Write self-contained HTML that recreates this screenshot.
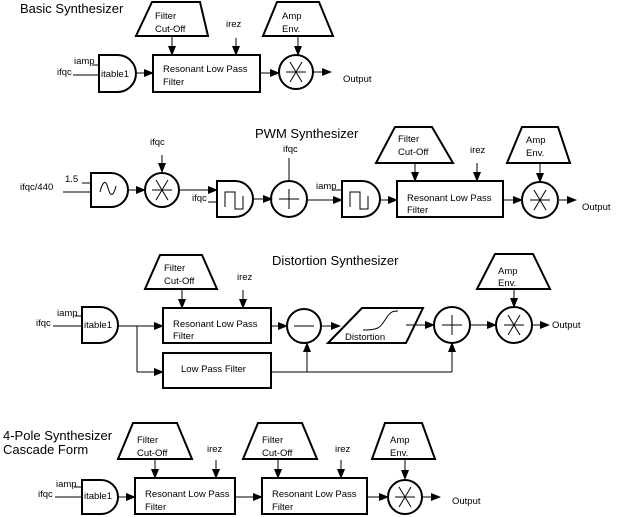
<!DOCTYPE html>
<html><head><meta charset="utf-8"><style>
html,body{margin:0;padding:0;background:#fff;}
svg{display:block;}
text{font-family:"Liberation Sans",sans-serif;font-size:9.5px;fill:#000;}
.t{font-size:13px;}
.b{fill:none;stroke:#000;stroke-width:2;}
.l{fill:none;stroke:#000;stroke-width:1;}
</style></head><body>
<svg width="617" height="517" viewBox="0 0 617 517" xmlns="http://www.w3.org/2000/svg">
<defs>
<marker id="a" markerUnits="userSpaceOnUse" markerWidth="10" markerHeight="8" refX="9" refY="4" orient="auto">
<path d="M0,0 L10,4 L0,8 Z" fill="#000"/>
</marker>
</defs>

<!-- ===== Basic Synthesizer ===== -->
<text class="t" x="20" y="13">Basic Synthesizer</text>
<path class="b" d="M152,2 H200 L208,36 H136 Z"/>
<text x="155" y="19">Filter</text><text x="155" y="32">Cut-Off</text>
<line class="l" x1="172" y1="36" x2="172" y2="55" marker-end="url(#a)"/>
<text x="226" y="27">irez</text>
<line class="l" x1="236" y1="38" x2="236" y2="55" marker-end="url(#a)"/>
<path class="b" d="M277,2 H319 L333,36 H263 Z"/>
<text x="282" y="19">Amp</text><text x="282" y="32">Env.</text>
<line class="l" x1="298" y1="36" x2="298" y2="55" marker-end="url(#a)"/>
<text x="74" y="64">iamp</text><line class="l" x1="92" y1="65" x2="99" y2="65"/>
<text x="57" y="75">ifqc</text><line class="l" x1="73" y1="75" x2="99" y2="75"/>
<path class="b" d="M99,55 H117.5 A18.5,18.5 0 0 1 117.5,92 H99 Z"/>
<text x="101" y="77">itable1</text>
<line class="l" x1="136" y1="73" x2="153" y2="73" marker-end="url(#a)"/>
<rect class="b" x="153" y="55" width="107" height="37"/>
<text x="163" y="72">Resonant Low Pass</text><text x="163" y="85">Filter</text>
<line class="l" x1="260" y1="73" x2="279" y2="73" marker-end="url(#a)"/>
<circle class="b" cx="296" cy="72" r="17"/>
<path class="l" d="M286,72 H306 M290,62 L302,82 M302,62 L290,82"/>
<line class="l" x1="313" y1="72" x2="331" y2="72" marker-end="url(#a)"/>
<text x="343" y="82">Output</text>

<!-- ===== PWM Synthesizer ===== -->
<text class="t" x="255" y="138">PWM Synthesizer</text>
<text x="65" y="182">1.5</text><line class="l" x1="82" y1="183" x2="91" y2="183"/>
<text x="20" y="190">ifqc/440</text><line class="l" x1="63" y1="192" x2="91" y2="192"/>
<path class="b" d="M91,173 H111 A17,17 0 0 1 111,207 H91 Z"/>
<path class="l" d="M100,192 C103,180 106,180 108,188 C110,196 113,198 116,186"/>
<line class="l" x1="128" y1="190" x2="145" y2="190" marker-end="url(#a)"/>
<text x="150" y="145">ifqc</text>
<line class="l" x1="162" y1="155" x2="162" y2="172" marker-end="url(#a)"/>
<circle class="b" cx="162" cy="190" r="17"/>
<path class="l" d="M152,190 H172 M156,180 L168,200 M168,180 L156,200"/>
<line class="l" x1="179" y1="190" x2="217" y2="190" marker-end="url(#a)"/>
<text x="192" y="201">ifqc</text><line class="l" x1="208" y1="202" x2="217" y2="202"/>
<path class="b" d="M217,181 H235 A18,18 0 0 1 235,217 H217 Z"/>
<path class="l" d="M225,207 V192 H235 V209 H243 V196"/>
<line class="l" x1="253" y1="199" x2="272" y2="199" marker-end="url(#a)"/>
<text x="283" y="152">ifqc</text>
<line class="l" x1="289" y1="158" x2="289" y2="181"/>
<circle class="b" cx="289" cy="199" r="18"/>
<path class="l" d="M279,199 H299 M289,189 V209"/>
<line class="l" x1="307" y1="200" x2="342" y2="200" marker-end="url(#a)"/>
<text x="316" y="189">iamp</text><line class="l" x1="333" y1="190" x2="342" y2="190"/>
<path class="b" d="M342,181 H362 A18,18 0 0 1 362,217 H342 Z"/>
<path class="l" d="M350,207 V192 H360 V209 H368 V196"/>
<line class="l" x1="380" y1="200" x2="397" y2="200" marker-end="url(#a)"/>
<path class="b" d="M395,127 H432 L453,163 H376 Z"/>
<text x="398" y="142">Filter</text><text x="398" y="155">Cut-Off</text>
<line class="l" x1="415" y1="163" x2="415" y2="181" marker-end="url(#a)"/>
<text x="470" y="153">irez</text>
<line class="l" x1="477" y1="163" x2="477" y2="181" marker-end="url(#a)"/>
<rect class="b" x="397" y="181" width="106" height="36"/>
<text x="407" y="201">Resonant Low Pass</text><text x="407" y="213">Filter</text>
<path class="b" d="M522,127 H558 L570,163 H507 Z"/>
<text x="526" y="143">Amp</text><text x="526" y="156">Env.</text>
<line class="l" x1="540" y1="163" x2="540" y2="182" marker-end="url(#a)"/>
<line class="l" x1="503" y1="200" x2="522" y2="200" marker-end="url(#a)"/>
<circle class="b" cx="540" cy="200" r="18"/>
<path class="l" d="M530,200 H550 M534,190 L546,210 M546,190 L534,210"/>
<line class="l" x1="558" y1="200" x2="576" y2="200" marker-end="url(#a)"/>
<text x="582" y="210">Output</text>

<!-- ===== Distortion Synthesizer ===== -->
<text class="t" x="272" y="265">Distortion Synthesizer</text>
<path class="b" d="M160,255 H202 L217,289 H145 Z"/>
<text x="164" y="271">Filter</text><text x="164" y="284">Cut-Off</text>
<line class="l" x1="182" y1="289" x2="182" y2="308" marker-end="url(#a)"/>
<text x="237" y="280">irez</text>
<line class="l" x1="243" y1="290" x2="243" y2="308" marker-end="url(#a)"/>
<text x="57" y="316">iamp</text><line class="l" x1="75" y1="316" x2="82" y2="316"/>
<text x="36" y="326">ifqc</text><line class="l" x1="53" y1="326" x2="82" y2="326"/>
<path class="b" d="M82,307 H100 A18,18 0 0 1 100,343 H82 Z"/>
<text x="84" y="328">itable1</text>
<line class="l" x1="118" y1="326" x2="163" y2="326" marker-end="url(#a)"/>
<path class="l" d="M137,326 V372"/>
<line class="l" x1="137" y1="372" x2="163" y2="372" marker-end="url(#a)"/>
<rect class="b" x="163" y="308" width="108" height="35"/>
<text x="173" y="327">Resonant Low Pass</text><text x="173" y="339">Filter</text>
<rect class="b" x="163" y="353" width="108" height="35"/>
<text x="181" y="372">Low Pass Filter</text>
<line class="l" x1="271" y1="326" x2="287" y2="326" marker-end="url(#a)"/>
<circle class="b" cx="304" cy="326" r="17"/>
<line class="l" x1="294" y1="326" x2="314" y2="326"/>
<path class="l" d="M271,372 H452"/>
<line class="l" x1="307" y1="372" x2="307" y2="343" marker-end="url(#a)"/>
<line class="l" x1="452" y1="372" x2="452" y2="343" marker-end="url(#a)"/>
<line class="l" x1="321" y1="326" x2="340" y2="326" marker-end="url(#a)"/>
<path class="b" d="M362,308 H423 L406,343 H328 Z"/>
<path class="l" d="M363,330 C378,330 380,328 385,320 C390,312 392,311 398,311"/>
<text x="345" y="340">Distortion</text>
<line class="l" x1="406" y1="325" x2="434" y2="325" marker-end="url(#a)"/>
<circle class="b" cx="452" cy="325" r="18"/>
<path class="l" d="M442,325 H462 M452,315 V335"/>
<line class="l" x1="470" y1="325" x2="496" y2="325" marker-end="url(#a)"/>
<path class="b" d="M495,254 H533 L550,289 H477 Z"/>
<text x="498" y="274">Amp</text><text x="498" y="286">Env.</text>
<line class="l" x1="514" y1="289" x2="514" y2="307" marker-end="url(#a)"/>
<circle class="b" cx="514" cy="325" r="18"/>
<path class="l" d="M504,325 H524 M508,315 L520,335 M520,315 L508,335"/>
<line class="l" x1="532" y1="325" x2="549" y2="325" marker-end="url(#a)"/>
<text x="552" y="328">Output</text>

<!-- ===== 4-Pole ===== -->
<text class="t" x="3" y="440">4-Pole Synthesizer</text>
<text class="t" x="3" y="454">Cascade Form</text>
<path class="b" d="M133,423 H177 L192,459 H118 Z"/>
<text x="137" y="443">Filter</text><text x="137" y="456">Cut-Off</text>
<line class="l" x1="155" y1="459" x2="155" y2="478" marker-end="url(#a)"/>
<text x="207" y="452">irez</text>
<line class="l" x1="216" y1="460" x2="216" y2="478" marker-end="url(#a)"/>
<path class="b" d="M258,423 H302 L317,459 H243 Z"/>
<text x="262" y="443">Filter</text><text x="262" y="456">Cut-Off</text>
<line class="l" x1="278" y1="459" x2="278" y2="478" marker-end="url(#a)"/>
<text x="335" y="452">irez</text>
<line class="l" x1="341" y1="460" x2="341" y2="478" marker-end="url(#a)"/>
<path class="b" d="M385,423 H422 L435,459 H372 Z"/>
<text x="390" y="443">Amp</text><text x="390" y="456">Env.</text>
<line class="l" x1="405" y1="459" x2="405" y2="479" marker-end="url(#a)"/>
<text x="56" y="487">iamp</text><line class="l" x1="74" y1="487" x2="82" y2="487"/>
<text x="38" y="497">ifqc</text><line class="l" x1="55" y1="497" x2="82" y2="497"/>
<path class="b" d="M82,480 H101 A17,17 0 0 1 101,514 H82 Z"/>
<text x="84" y="499">itable1</text>
<line class="l" x1="118" y1="497" x2="135" y2="497" marker-end="url(#a)"/>
<rect class="b" x="135" y="478" width="100" height="36"/>
<text x="145" y="497">Resonant Low Pass</text><text x="145" y="510">Filter</text>
<line class="l" x1="235" y1="497" x2="262" y2="497" marker-end="url(#a)"/>
<rect class="b" x="262" y="478" width="105" height="36"/>
<text x="272" y="497">Resonant Low Pass</text><text x="272" y="510">Filter</text>
<line class="l" x1="367" y1="497" x2="388" y2="497" marker-end="url(#a)"/>
<circle class="b" cx="405" cy="497" r="17"/>
<path class="l" d="M395,497 H415 M399,487 L411,507 M411,487 L399,507"/>
<line class="l" x1="422" y1="497" x2="440" y2="497" marker-end="url(#a)"/>
<text x="452" y="504">Output</text>
</svg>
</body></html>
